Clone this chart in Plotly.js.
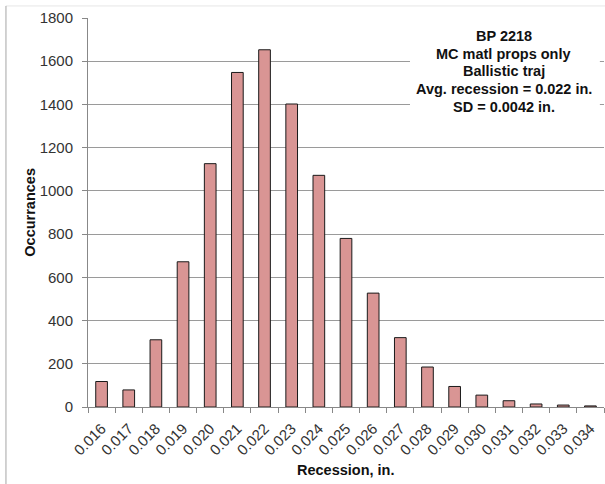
<!DOCTYPE html>
<html>
<head>
<meta charset="utf-8">
<script src="https://cdn.plot.ly/plotly-3.0.1.min.js"></script>
<style>html,body{margin:0;padding:0;background:#fff;}#chart{width:605px;height:484px;}</style>
</head>
<body>
<div id="chart"></div>
<script>
var categories = ["0.016","0.017","0.018","0.019","0.020","0.021","0.022","0.023","0.024","0.025","0.026","0.027","0.028","0.029","0.030","0.031","0.032","0.033","0.034"];
var occurrences = [118, 79, 311, 672, 1126, 1548, 1653, 1402, 1072, 780, 527, 321, 185, 95, 55, 29, 14, 9, 5];
var yTicks = [0, 200, 400, 600, 800, 1000, 1200, 1400, 1600, 1800];
var noteLines = ["BP 2218", "MC matl props only", "Ballistic traj", "Avg. recession = 0.022 in.", "SD = 0.0042 in."];
var xTitle = "Recession, in.";
var yTitle = "Occurrances";

var FONT = "Liberation Sans, Arial, sans-serif";

var trace = {
  type: "bar",
  x: categories,
  y: occurrences,
  marker: {color: "#d99594", line: {color: "#1a1a1a", width: 1}},
  hoverinfo: "x+y"
};

var noteY = [0.954, 0.908, 0.863, 0.818, 0.771];
var annotations = noteLines.map(function(s, i) {
  return {
    xref: "paper", yref: "paper",
    x: 0.806, y: noteY[i],
    xanchor: "center", yanchor: "middle",
    text: "<b>" + s + "</b>",
    showarrow: false,
    font: {size: 14.5, color: "#111111", family: FONT}
  };
});
annotations.push({
  xref: "paper", yref: "paper", x: 0.5, y: -0.162,
  xanchor: "center", yanchor: "middle", showarrow: false,
  text: "<b>" + xTitle + "</b>",
  font: {size: 14.5, color: "#111111", family: FONT}
});
annotations.push({
  xref: "paper", yref: "paper", x: -0.114, y: 0.5,
  xanchor: "center", yanchor: "middle", showarrow: false,
  textangle: -90,
  text: "<b>" + yTitle + "</b>",
  font: {size: 14.5, color: "#111111", family: FONT}
});

var layout = {
  width: 605, height: 484,
  margin: {l: 88, r: 1, t: 18, b: 77, pad: 0},
  paper_bgcolor: "#ffffff",
  plot_bgcolor: "#ffffff",
  font: {family: FONT, color: "#333333"},
  bargap: 0.57,
  showlegend: false,
  xaxis: {
    type: "category",
    tickangle: -45,
    tickson: "boundaries",
    ticks: "outside",
    ticklen: 5,
    tickcolor: "#888888",
    showline: true,
    linecolor: "#888888",
    linewidth: 1,
    showgrid: false,
    ticklabelstandoff: 6,
    tickfont: {size: 15, color: "#333333"}
  },
  yaxis: {
    range: [0, 1800],
    tickvals: yTicks,
    ticktext: yTicks.map(String),
    ticks: "outside",
    ticklen: 5,
    tickcolor: "#888888",
    showline: true,
    linecolor: "#888888",
    linewidth: 1,
    showgrid: true,
    gridcolor: "#9a9a9a",
    gridwidth: 1,
    zeroline: false,
    ticklabelstandoff: 6,
    tickfont: {size: 15, color: "#333333"}
  },
  shapes: [
    {type: "rect", xref: "paper", yref: "paper", x0: 0.624, x1: 0.992, y0: 0.74, y1: 0.985, fillcolor: "#ffffff", line: {width: 0}, layer: "above"},
    {type: "line", xref: "paper", yref: "paper", x0: -0.159, x1: 1.2, y0: 1.031, y1: 1.031, line: {color: "#e6e6e6", width: 1}},
    {type: "line", xref: "paper", yref: "paper", x0: -0.159, x1: -0.159, y0: 1.031, y1: -0.3, line: {color: "#a6a6a6", width: 1}}
  ],
  annotations: annotations
};

Plotly.newPlot("chart", [trace], layout, {displayModeBar: false, staticPlot: true});
</script>
</body>
</html>
